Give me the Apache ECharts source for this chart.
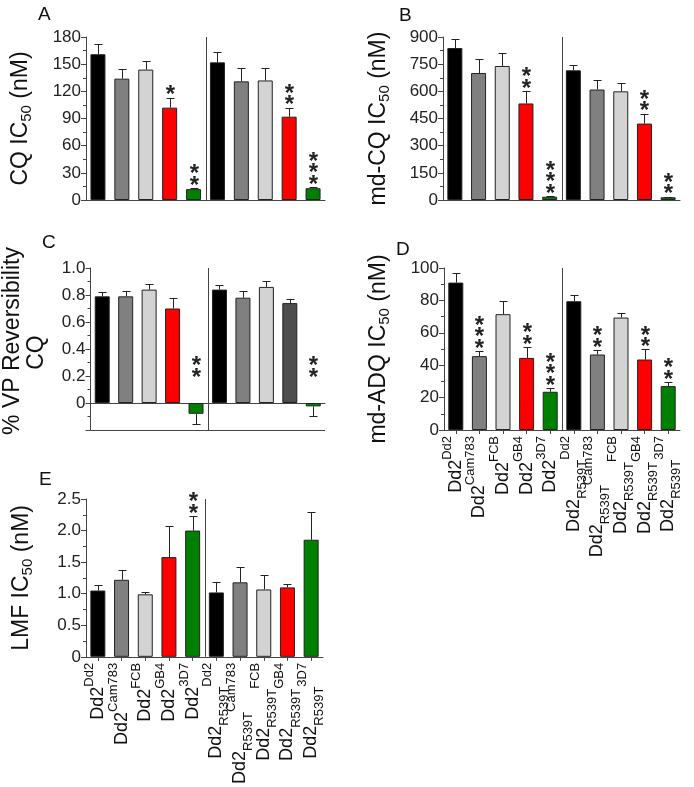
<!DOCTYPE html>
<html>
<head>
<meta charset="utf-8">
<script src="https://cdn.jsdelivr.net/npm/echarts@6/dist/echarts.min.js"></script>
<style>
html,body{margin:0;padding:0;background:#fff;}
#chart{width:694px;height:787px;}
</style>
</head>
<body>
<div id="chart"></div>
<script>
// ---------- data ----------
const categories = ['Dd2^Dd2','Dd2^Cam783','Dd2^FCB','Dd2^GB4','Dd2^3D7',
  'Dd2_R539T^Dd2','Dd2_R539T^Cam783','Dd2_R539T^FCB','Dd2_R539T^GB4','Dd2_R539T^3D7'];

const cqValues   = [161, 134, 144, 102, 12, 152, 131, 132, 92, 13];
const cqErrors   = [11, 11, 10, 11, 1, 11, 15, 14, 10, 1];
const cqStars    = [0, 0, 0, 1, 2, 0, 0, 0, 2, 3];

const mdcqValues = [839, 701, 740, 533, 18, 716, 610, 600, 422, 15];
const mdcqErrors = [48, 80, 72, 69, 3, 32, 55, 48, 55, 3];
const mdcqStars  = [0, 0, 0, 2, 3, 0, 0, 0, 2, 2];

const vpValues   = [0.79, 0.79, 0.84, 0.70, -0.08, 0.84, 0.78, 0.86, 0.74, -0.025];
const vpErrors   = [0.03, 0.04, 0.045, 0.08, 0.073, 0.035, 0.048, 0.045, 0.027, 0.069];
const vpStars    = [0, 0, 0, 0, 2, 0, 0, 0, 0, 2];

const adqValues  = [91, 45.6, 71.5, 44.5, 23.6, 79.5, 46.6, 69.4, 43.5, 27.1];
const adqErrors  = [6.2, 3.1, 8, 6.8, 2.1, 4.1, 2.7, 2.9, 6.2, 2.3];
const adqStars   = [0, 3, 0, 2, 3, 0, 2, 0, 2, 2];

const lmfValues  = [1.05, 1.22, 0.99, 1.58, 2.0, 1.02, 1.18, 1.067, 1.10, 1.855];
const lmfErrors  = [0.09, 0.156, 0.04, 0.50, 0.225, 0.165, 0.248, 0.233, 0.06, 0.435];
const lmfStars   = [0, 0, 0, 0, 2, 0, 0, 0, 0, 0];

const yTicksCQ   = {min: 0, max: 180, interval: 30};
const yTicksMDCQ = {min: 0, max: 900, interval: 150};
const yTicksVP   = {min: -0.2, max: 1.0, interval: 0.2};
const yTicksADQ  = {min: 0, max: 100, interval: 20};
const yTicksLMF  = {min: 0, max: 2.5, interval: 0.5};

// ---------- styles ----------
const barColors = ['#000000', '#808080', '#d3d3d3', '#ff0000', '#008000',
                   '#000000', '#808080', '#d3d3d3', '#ff0000', '#008000'];
const vpColors  = ['#000000', '#808080', '#d3d3d3', '#ff0000', '#008000',
                   '#000000', '#808080', '#d3d3d3', '#4d4d4d', '#008000'];
const FONT = 'Liberation Sans, Arial, Helvetica, sans-serif';
const AX = '#444';

const panels = [
  {letter:'A', values:cqValues, errors:cqErrors, stars:cqStars, ticks:yTicksCQ, colors:barColors,
   grid:{left:86, top:37, width:239, height:163}, name:'{t|CQ IC}{s|50}{t| (nM)}', nameGap:52,
   letterPos:[38,5], labels:false, fmt:v=>String(v)},
  {letter:'B', values:mdcqValues, errors:mdcqErrors, stars:mdcqStars, ticks:yTicksMDCQ, colors:barColors,
   grid:{left:443, top:37, width:237, height:163}, name:'{t|md-CQ IC}{s|50}{t| (nM)}', nameGap:51,
   letterPos:[399,6], labels:false, fmt:v=>String(v)},
  {letter:'C', values:vpValues, errors:vpErrors, stars:vpStars, ticks:yTicksVP, colors:vpColors,
   grid:{left:86, top:268, width:239, height:162}, name:'{l|% VP Reversibility}\n{c|CQ}', nameGap:42,
   letterPos:[42,233], labels:false, frame:true,
   fmt:v=>v < -1e-9 ? '' : (Math.abs(v) < 1e-9 ? '0' : v.toFixed(1))},
  {letter:'D', values:adqValues, errors:adqErrors, stars:adqStars, ticks:yTicksADQ, colors:barColors,
   grid:{left:444, top:268, width:236, height:162}, name:'{t|md-ADQ IC}{s|50}{t| (nM)}', nameGap:52,
   letterPos:[396,240], labels:true, fmt:v=>String(v)},
  {letter:'E', values:lmfValues, errors:lmfErrors, stars:lmfStars, ticks:yTicksLMF, colors:barColors,
   grid:{left:86, top:499, width:237, height:162}, name:'{t|LMF IC}{s|50}{t| (nM)}', nameGap:51,
   letterPos:[39,470], labels:true, fmt:v=>Math.abs(v) < 1e-9 ? '0' : v.toFixed(1)}
];

function labelFormatter(val) {
  const m = val.match(/^([^_^]+)(?:_([^\^]+))?\^(.+)$/);
  let s = '{b|' + m[1] + '}';
  if (m[2]) s += '{sub|' + m[2] + '}';
  s += '{sup|' + m[3] + '}';
  return s;
}

const grids = [], xAxes = [], yAxes = [], series = [], titles = [];

panels.forEach((p, gi) => {
  grids.push(Object.assign({containLabel:false}, p.grid));
  titles.push({text:p.letter, left:p.letterPos[0], top:p.letterPos[1], padding:0,
    textStyle:{fontFamily:FONT, fontSize:19, fontWeight:'normal', color:'#111'}});
  xAxes.push({
    type:'category', gridIndex:gi, data:categories, boundaryGap:true,
    axisLine:{show:true, onZero:true, lineStyle:{color:AX, width:1}},
    axisTick:{show:p.labels, alignWithLabel:true, length:4, lineStyle:{color:AX}},
    axisLabel:{show:p.labels, interval:0, rotate:90, margin:6, fontFamily:FONT, color:'#111',
      formatter:labelFormatter,
      rich:{
        b:{fontSize:18, lineHeight:30, verticalAlign:'middle', fontFamily:FONT, color:'#111'},
        sub:{fontSize:13, lineHeight:16, verticalAlign:'bottom', fontFamily:FONT, color:'#111'},
        sup:{fontSize:13, lineHeight:20, verticalAlign:'top', fontFamily:FONT, color:'#111'}
      }},
    splitLine:{show:false}
  });
  yAxes.push({
    type:'value', gridIndex:gi, min:p.ticks.min, max:p.ticks.max, interval:p.ticks.interval,
    axisLine:{show:true, lineStyle:{color:AX, width:1}},
    axisTick:{show:true, length:5, lineStyle:{color:AX}},
    minorTick:{show:true, splitNumber:2, length:3, lineStyle:{color:AX}},
    splitLine:{show:false}, minorSplitLine:{show:false},
    axisLabel:{fontFamily:FONT, fontSize:17, color:'#222', margin:5, formatter:p.fmt},
    name:p.name, nameLocation:'middle', nameRotate:90, nameGap:p.nameGap,
    nameTextStyle:{fontFamily:FONT, color:'#111',
      rich:{
        t:{fontSize:23, fontFamily:FONT, color:'#111', verticalAlign:'middle', lineHeight:26},
        s:{fontSize:15, fontFamily:FONT, color:'#111', verticalAlign:'bottom', lineHeight:18},
        l:{fontSize:23, fontFamily:FONT, color:'#111', lineHeight:24, padding:[0,0,0,16]},
        c:{fontSize:23, fontFamily:FONT, color:'#111', lineHeight:24, padding:[0,7,0,0]}
      }}
  });
  series.push({
    type:'bar', xAxisIndex:gi, yAxisIndex:gi, barWidth:15,
    data:p.values.map((v, i) => ({value:v, itemStyle:{color:p.colors[i]}})),
    itemStyle:{borderColor:'#222', borderWidth:1},
    silent:true, animation:false
  });
  series.push({
    type:'custom', xAxisIndex:gi, yAxisIndex:gi, z:5, silent:true, animation:false,
    data:p.values.map((v, i) => [i, v, v >= 0 ? v + p.errors[i] : v - p.errors[i], p.stars[i]]),
    renderItem:function(params, api) {
      const i = api.value(0), v = api.value(1), end = api.value(2), nStars = api.value(3);
      const p0 = api.coord([i, v]);
      const p1 = api.coord([i, end]);
      const x = Math.round(p0[0]) + 0.5;
      const ly = Math.round(p1[1]) + 0.5;
      const st = {stroke:'#222', lineWidth:1};
      const ch = [
        {type:'line', shape:{x1:x, y1:p0[1], x2:x, y2:ly}, style:st},
        {type:'line', shape:{x1:x-4, y1:ly, x2:x+4, y2:ly}, style:st}
      ];
      const cs = params.coordSys;
      if (i === 5) {
        const bw = api.size([1, 0])[0];
        const dx = Math.round(p0[0] - bw / 2) + 0.5;
        ch.push({type:'line', shape:{x1:dx, y1:cs.y, x2:dx, y2:cs.y + cs.height}, style:{stroke:AX, lineWidth:1}});
      }
      if (i === 0 && p.frame) {
        const by = Math.round(cs.y + cs.height) + 0.5;
        ch.push({type:'line', shape:{x1:cs.x, y1:by, x2:cs.x + cs.width, y2:by}, style:{stroke:AX, lineWidth:1}});
      }
      if (nStars > 0) {
        let base;
        if (v >= 0) base = p1[1] - 8;
        else base = api.coord([i, 0])[1] - 31;
        for (let k = 0; k < nStars; k++) {
          ch.push({type:'text', style:{text:'*', x:x, y:base - k * 11.5 + 6, align:'center', verticalAlign:'middle',
            fontSize:24, fontWeight:'bold', fontFamily:FONT, fill:'#222'}});
        }
      }
      return {type:'group', children:ch};
    }
  });
});

const chart = echarts.init(document.getElementById('chart'), null, {renderer:'canvas'});
chart.setOption({
  backgroundColor:'#ffffff',
  animation:false,
  title:titles,
  grid:grids,
  xAxis:xAxes,
  yAxis:yAxes,
  series:series
});
</script>
</body>
</html>
